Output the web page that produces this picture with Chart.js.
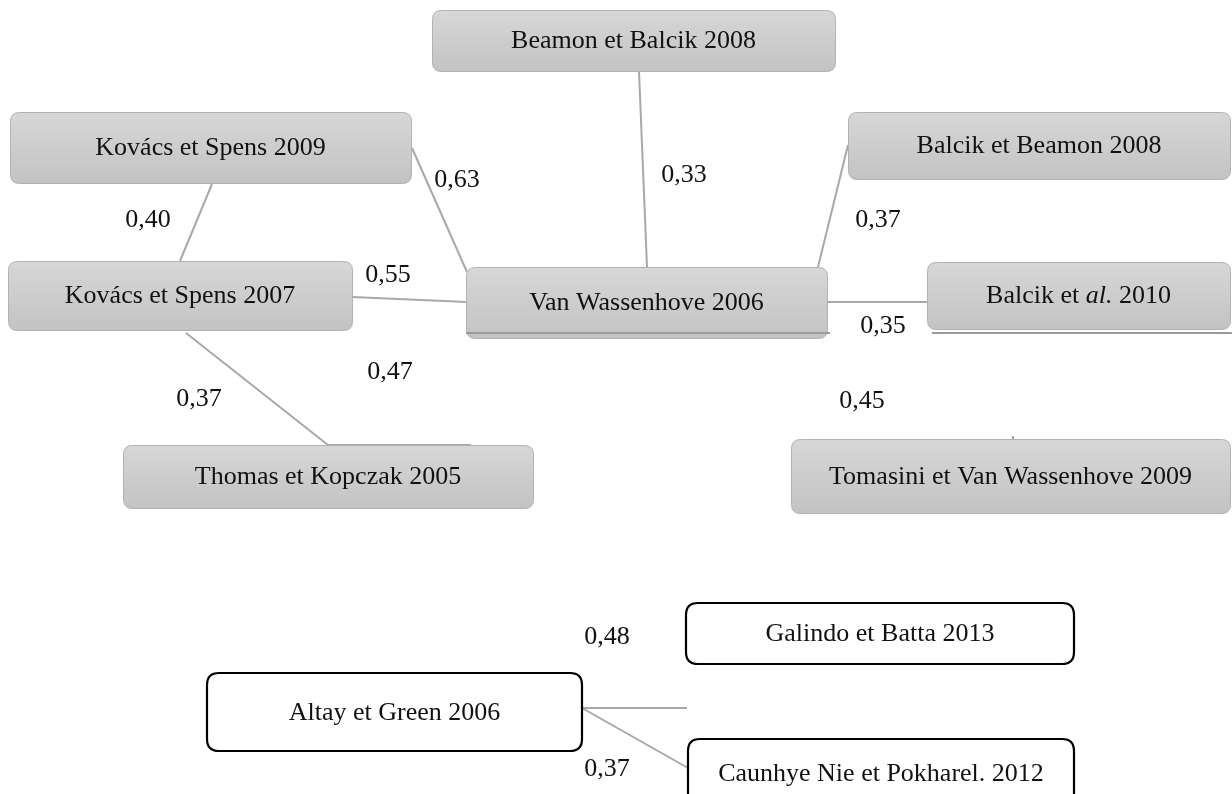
<!DOCTYPE html>
<html>
<head>
<meta charset="utf-8">
<script src="https://cdn.jsdelivr.net/npm/chart.js@4"></script>
<style>
  body { margin: 0; background: #fff; }
  canvas { display: block; }
</style>
</head>
<body>
<canvas id="citeChart" width="1232" height="794"></canvas>
<script>
// nodes (diagram units, same frame as the picture)
const nodeNames = [
  'Beamon et Balcik 2008', 'Kovács et Spens 2009', 'Kovács et Spens 2007',
  'Van Wassenhove 2006', 'Balcik et Beamon 2008', 'Balcik et *al.* 2010',
  'Thomas et Kopczak 2005', 'Tomasini et Van Wassenhove 2009',
  'Galindo et Batta 2013', 'Altay et Green 2006', 'Caunhye Nie et Pokharel. 2012'
];
const nodeLeft   = [432, 10, 8, 466, 848, 927, 123, 791, 686, 207, 688];
const nodeRight  = [835, 411, 352, 827, 1230, 1230, 533, 1230, 1074, 582, 1074];
const nodeTop    = [10, 112, 261, 267, 112, 262, 445, 439, 603, 673, 739];
const nodeBottom = [71, 183, 330, 338, 179, 329, 508, 513, 664, 751, 808];
const nodeCluster = [1, 1, 1, 1, 1, 1, 1, 1, 2, 2, 2];

// links between nodes
const linkX1 = [639, 412, 212, 352, 186, 328, 818, 827, 1013, 582, 582];
const linkY1 = [71, 148, 184, 297, 333, 445, 267, 302, 436, 708, 708];
const linkX2 = [647, 467, 180, 467, 328, 471, 848, 927, 1013, 687, 688];
const linkY2 = [267, 272, 261, 302, 445, 445, 145, 302, 440, 708, 768];

// similarity weights
const weights = ['0,63', '0,33', '0,40', '0,55', '0,47', '0,37', '0,37', '0,35', '0,45', '0,48', '0,37'];
const weightX = [457, 684, 148, 388, 390, 199, 878, 883, 862, 607, 607];
const weightY = [176, 171, 216, 271, 368, 395, 216, 322, 397, 633, 765];

// shadow lines under two boxes
const underX1 = [466, 932];
const underX2 = [830, 1232];
const underY = [333, 333];

const FONT = '"Liberation Serif", "Times New Roman", serif';
const CAP = 26 * 0.33 + 2; // baseline drop from the visual centre of capitals

function roundRect(ctx, x, y, w, h, r) {
  ctx.beginPath();
  ctx.moveTo(x + r, y);
  ctx.lineTo(x + w - r, y);
  ctx.quadraticCurveTo(x + w, y, x + w, y + r);
  ctx.lineTo(x + w, y + h - r);
  ctx.quadraticCurveTo(x + w, y + h, x + w - r, y + h);
  ctx.lineTo(x + r, y + h);
  ctx.quadraticCurveTo(x, y + h, x, y + h - r);
  ctx.lineTo(x, y + r);
  ctx.quadraticCurveTo(x, y, x + r, y);
  ctx.closePath();
}

// text with *italic* parts, centred on cx
function drawRich(ctx, text, cx, cy) {
  const parts = text.split('*');
  let total = 0;
  parts.forEach((p, i) => {
    ctx.font = (i % 2 ? 'italic ' : '') + '26px ' + FONT;
    total += ctx.measureText(p).width;
  });
  let x = cx - total / 2;
  ctx.textAlign = 'left';
  parts.forEach((p, i) => {
    ctx.font = (i % 2 ? 'italic ' : '') + '26px ' + FONT;
    ctx.fillText(p, x, cy + CAP);
    x += ctx.measureText(p).width;
  });
}

const nodePlugin = {
  id: 'nodes',
  afterDatasetsDraw(chart) {
    const ctx = chart.ctx;
    const xs = chart.scales.x;
    const ys = chart.scales.y;
    ctx.save();
    ctx.textBaseline = 'alphabetic';

    nodeNames.forEach((name, i) => {
      const x0 = xs.getPixelForValue(nodeLeft[i]);
      const x1 = xs.getPixelForValue(nodeRight[i]);
      const y0 = ys.getPixelForValue(nodeTop[i]);
      const y1 = ys.getPixelForValue(nodeBottom[i]);
      if (nodeCluster[i] === 1) {
        const g = ctx.createLinearGradient(0, y0, 0, y1);
        g.addColorStop(0, '#d7d7d7');
        g.addColorStop(1, '#c3c3c3');
        roundRect(ctx, x0 + 0.5, y0 + 0.5, x1 - x0, y1 - y0, 9);
        ctx.fillStyle = g;
        ctx.fill();
        ctx.lineWidth = 1;
        ctx.strokeStyle = '#b2b2b2';
        ctx.stroke();
      } else {
        roundRect(ctx, x0, y0, x1 - x0, y1 - y0, 12);
        ctx.fillStyle = '#ffffff';
        ctx.fill();
        ctx.lineWidth = 2.2;
        ctx.strokeStyle = '#000000';
        ctx.stroke();
      }
      ctx.fillStyle = '#111111';
      drawRich(ctx, name, (x0 + x1) / 2, (y0 + y1) / 2 - 3);
    });

    underY.forEach((v, i) => {
      ctx.beginPath();
      ctx.moveTo(xs.getPixelForValue(underX1[i]), ys.getPixelForValue(v));
      ctx.lineTo(xs.getPixelForValue(underX2[i]), ys.getPixelForValue(v));
      ctx.lineWidth = 2;
      ctx.strokeStyle = '#9a9a9a';
      ctx.stroke();
    });

    ctx.fillStyle = '#111111';
    ctx.textAlign = 'center';
    ctx.font = '26px ' + FONT;
    weights.forEach((w, i) => {
      ctx.fillText(w, xs.getPixelForValue(weightX[i]), ys.getPixelForValue(weightY[i]) + CAP);
    });
    ctx.restore();
  }
};

const linkSets = linkX1.map((x, i) => ({
  data: [{x: x, y: linkY1[i]}, {x: linkX2[i], y: linkY2[i]}],
  showLine: true,
  fill: false,
  borderColor: '#a8a8a8',
  borderWidth: 2,
  pointRadius: 0,
}));

new Chart(document.getElementById('citeChart').getContext('2d'), {
  type: 'scatter',
  data: { datasets: linkSets },
  options: {
    responsive: false,
    animation: false,
    layout: { padding: 0 },
    scales: {
      x: { type: 'linear', min: 0, max: 1232, display: false },
      y: { type: 'linear', min: 0, max: 794, reverse: true, display: false }
    },
    plugins: {
      legend: { display: false },
      tooltip: { enabled: false }
    }
  },
  plugins: [nodePlugin]
});
</script>
</body>
</html>
